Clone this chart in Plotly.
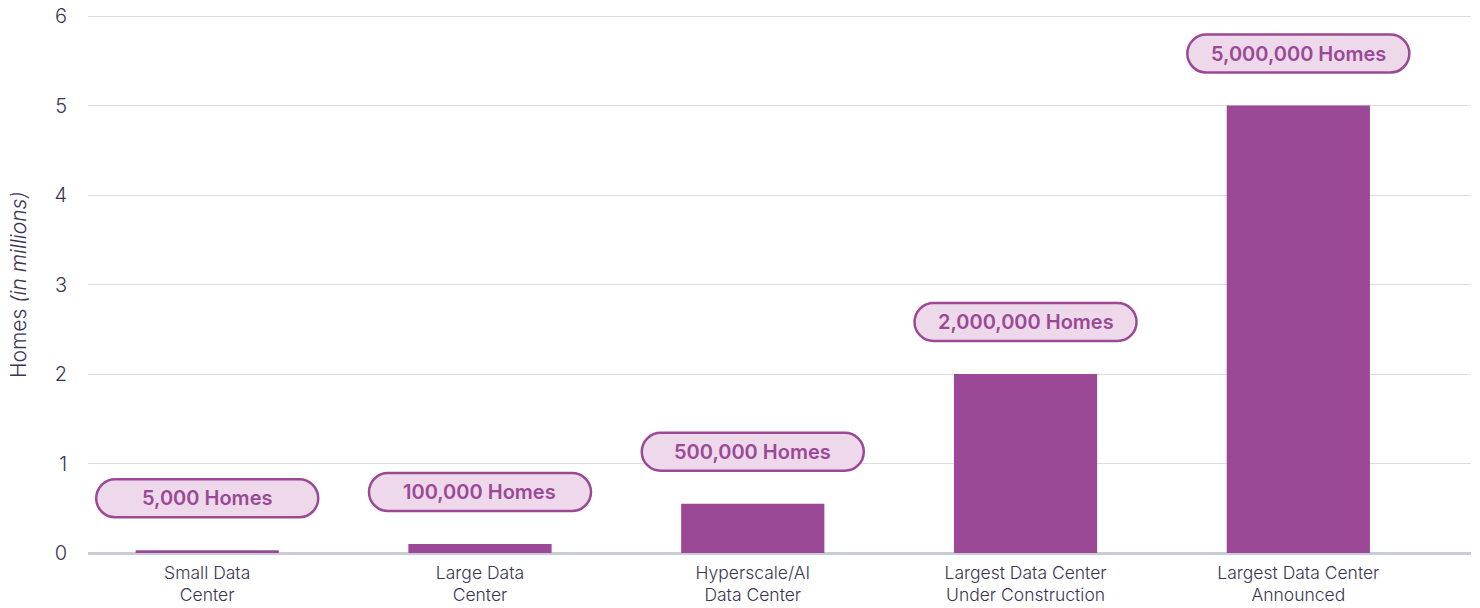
import plotly.graph_objects as go

categories = ["Small Data<br>Center", "Large Data<br>Center", "Hyperscale/AI<br>Data Center",
              "Largest Data Center<br>Under Construction", "Largest Data Center<br>Announced"]
homes_millions = [0.03, 0.1, 0.55, 2.0, 5.0]
pill_labels = ["5,000 Homes", "100,000 Homes", "500,000 Homes", "2,000,000 Homes", "5,000,000 Homes"]
y_ticks = [0, 1, 2, 3, 4, 5, 6]

BAR = "#9b4897"
PILL_FILL = "#edd9ea"
TEXT = "#3b3453"
GRID = "#dcdde2"
FONT = "Inter"

x = list(range(len(categories)))

fig = go.Figure()
fig.add_trace(go.Bar(x=x, y=homes_millions, marker=dict(color=BAR, line=dict(width=0)),
                     width=0.525, hoverinfo="skip"))

# rounded pill path (pixel coords, positive up), centred above bar top
def pill_path(cy, w=222, h=38):
    hw, hh = w / 2, h / 2
    r = hh
    k = 0.5523 * r
    top, bot = cy + hh, cy - hh
    return (f"M {-hw + r},{top} L {hw - r},{top} "
            f"C {hw - r + k},{top} {hw},{cy + k} {hw},{cy} "
            f"C {hw},{cy - k} {hw - r + k},{bot} {hw - r},{bot} "
            f"L {-hw + r},{bot} "
            f"C {-hw + r - k},{bot} {-hw},{cy - k} {-hw},{cy} "
            f"C {-hw},{cy + k} {-hw + r - k},{top} {-hw + r},{top} Z")

OFFSET = 52
for xi, v, lab in zip(x, homes_millions, pill_labels):
    fig.add_shape(type="path", xref="x", yref="y", xsizemode="pixel", ysizemode="pixel",
                  xanchor=xi, yanchor=v, path=pill_path(OFFSET),
                  fillcolor=PILL_FILL, line=dict(color=BAR, width=2.5), layer="above")
    fig.add_annotation(x=xi, y=v, xref="x", yref="y", text=lab, showarrow=False,
                       yshift=OFFSET, font=dict(family=FONT, size=20, color=BAR, weight=600))

fig.add_annotation(xref="paper", yref="paper", x=(18 - 88) / 1382, y=0.5, xanchor="center", yanchor="middle",
                   text="Homes <i>(in millions)</i>", textangle=-90, showarrow=False,
                   font=dict(family=FONT, size=21, color=TEXT, weight=300))

fig.update_layout(
    width=1480, height=608,
    margin=dict(l=88, r=9, t=15, b=55, autoexpand=False),
    plot_bgcolor="white", paper_bgcolor="white",
    showlegend=False,
    font=dict(family=FONT, color=TEXT),
    xaxis=dict(range=[-0.437, 4.633], tickmode="array", tickvals=x, ticktext=categories,
               showgrid=False, zeroline=False, showline=False, ticks="", ticklabelstandoff=7,
               automargin=False,
               tickfont=dict(family=FONT, size=17.5, color=TEXT, weight=300), fixedrange=True),
    yaxis=dict(range=[0, 6.012], tickmode="array", tickvals=y_ticks, ticktext=[str(t) for t in y_ticks],
               showgrid=True, gridcolor=GRID, gridwidth=1.2,
               zeroline=True, zerolinecolor="#c9ccd4", zerolinewidth=2.5,
               showline=False, ticks="", ticklabelstandoff=20, automargin=False,
               tickfont=dict(family=FONT, size=20, color=TEXT, weight=300), fixedrange=True),
)

fig.write_html("out.html", config={"displayModeBar": False},
               post_script="document.body.style.margin='0';")
